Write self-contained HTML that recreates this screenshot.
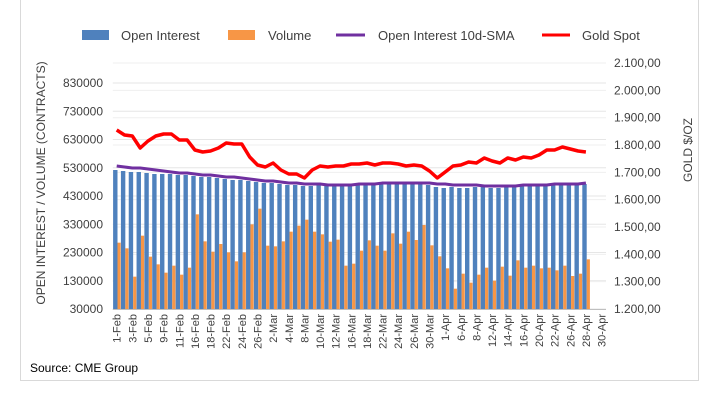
<!DOCTYPE html>
<html><head><meta charset="utf-8"><style>
html,body{margin:0;padding:0;background:#fff;}
svg{display:block;font-family:"Liberation Sans",sans-serif;}
</style></head><body>
<svg id="s" width="722" height="404" viewBox="0 0 722 404" xmlns="http://www.w3.org/2000/svg">
<rect x="0" y="0" width="722" height="404" fill="#fff"/>
<line x1="20.5" y1="0" x2="20.5" y2="380" stroke="#d9d9d9"/>
<line x1="698.5" y1="0" x2="698.5" y2="380" stroke="#d9d9d9"/>
<line x1="20" y1="380.5" x2="699" y2="380.5" stroke="#d9d9d9"/>
<g id="grid"></g><g id="bars"></g><g id="lines"></g><g id="labels"></g>
<rect x="82" y="30" width="27" height="10" fill="#4f81bd"/>
<text x="121" y="40" font-size="13" fill="#404040">Open Interest</text>
<rect x="228" y="30" width="27" height="10" fill="#f79646"/>
<text x="268" y="40" font-size="13" fill="#404040">Volume</text>
<line x1="336" y1="35" x2="365" y2="35" stroke="#7030a0" stroke-width="3"/>
<text x="378" y="40" font-size="13" fill="#404040">Open Interest 10d-SMA</text>
<line x1="542" y1="35" x2="570" y2="35" stroke="#ff0000" stroke-width="3"/>
<text x="582" y="40" font-size="13" fill="#404040">Gold Spot</text>
<text transform="translate(45,183) rotate(-90)" text-anchor="middle" font-size="12" fill="#404040">OPEN INTEREST / VOLUME (CONTRACTS)</text>
<text transform="translate(692,150) rotate(-90)" text-anchor="middle" font-size="12" fill="#404040">GOLD $/OZ</text>
<text x="30" y="372" font-size="12" fill="#000">Source: CME Group</text>
</svg>
<script>
var NS="http://www.w3.org/2000/svg";
function el(p,t,a,txt){var e=document.createElementNS(NS,t);for(var k in a)e.setAttribute(k,a[k]);if(txt!==undefined)e.textContent=txt;document.getElementById(p).appendChild(e);return e;}
var x0=112.8,w=7.82,ybot=309;
for(var i=0;i<=8;i++){var y=309-i*28.25;el("grid","line",{x1:x0,x2:606,y1:y,y2:y,stroke:"#e6e6e6"});
el("labels","text",{x:103,y:y+4,"text-anchor":"end","font-size":"12",fill:"#404040"},String(30000+i*100000));}
for(var i=0;i<=9;i++){var y=309-i*27.33;if(i>0)el("grid","line",{x1:x0,x2:606,y1:y,y2:y,stroke:"#efefef"});
el("labels","text",{x:614,y:y+4,"font-size":"12",fill:"#404040"},(1+(i+2>=10?1:0))+"."+String((i+2)%10)+"00,00");}
el("grid","line",{x1:x0,x2:606,y1:309.5,y2:309.5,stroke:"#bfbfbf"});
var dates=[];
[1,2,3,4,5,8,9,10,11,12,16,17,18,19,22,23,24,25,26].forEach(function(d){dates.push(d+"-Feb")});
[1,2,3,4,5,8,9,10,11,12,15,16,17,18,19,22,23,24,25,26,29,30,31].forEach(function(d){dates.push(d+"-Mar")});
[1,5,6,7,8,9,12,13,14,15,16,19,20,21,22,23,26,27,28,29,30].forEach(function(d){dates.push(d+"-Apr")});
var vz=[188,205,290,167,230,253,278,257,284,263,103,184,215,192,217,244,217,133,86,197,199,184,155,137,119,155,163,185,179,257,251,212,181,197,212,160,191,155,180,135,196,229,265,326,281,308,284,263,302,260,287,241,263,257,265,263,271,257,288,281,238];
var oi=[170,171,172,172,173,174,174,174,175,175,176,177,177,178,179,180,180,181,182,183,183,184,185,185,186,186,185,186,186,186,186,185,185,184,184,184,183,183,184,184,185,187,188,187,188,188,187,187,188,188,187,185,184,185,185,184,184,183,184,184,184];
var gold=[130,135,136,148,141,136,134,134,140,140,150,152,151,148,143,144,144,157,165,167,163,170,174,174,178,170,166,167,166,166,164,164,163,165,163,163,164,166,165,166,171,178,172,166,165,162,163,158,161,163,158,160,157,158,155,150,150,147,149,151,152,151,150];
var sma=[166,167,168,168,169,170,171,172,173,173,174,175,175,176,177,177,178,179,180,181,181,182,183,183,184,184,184,185,185,185,185,184,184,184,183,183,183,183,183,183,183,184,184,185,185,185,185,186,186,186,186,186,185,185,185,185,184,184,184,184,183];
var gp="",sp="";
for(var i=0;i<dates.length;i++){
 var cx=x0+w*i;
 if(i<vz.length){
  el("bars","rect",{x:cx+0.3,y:oi[i],width:4.4,height:ybot-oi[i],fill:"#4f81bd"});
  var vy=180+vz[i]/3;
  el("bars","rect",{x:cx+4.7,y:vy,width:3.2,height:ybot-vy,fill:"#f79646"});
  sp+=(i?"L":"M")+(cx+w/2).toFixed(1)+" "+sma[i];
 }
 if(i%2==0){var lx=cx+w/2+4;el("labels","text",{transform:"translate("+lx.toFixed(1)+",314) rotate(-90)","text-anchor":"end","font-size":"11",fill:"#404040"},dates[i]);}
}
for(var i=0;i<vz.length;i++){var cx=x0+w*i+w/2;var g=gold[i]!==undefined?gold[i]:150;gp+=(i?"L":"M")+cx.toFixed(1)+" "+g;}
el("lines","path",{d:sp,fill:"none",stroke:"#7030a0","stroke-width":"3","stroke-linejoin":"round"});
el("lines","path",{d:gp,fill:"none",stroke:"#ff0000","stroke-width":"3.5","stroke-linejoin":"round"});
</script>
</body></html>
